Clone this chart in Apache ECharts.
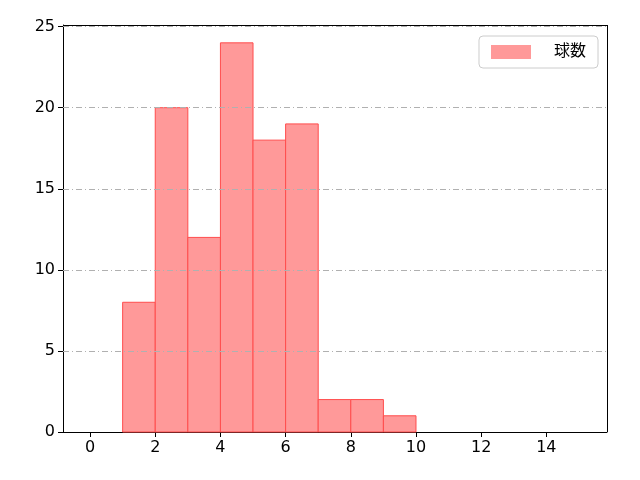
<!DOCTYPE html>
<html><head><meta charset="utf-8">
<script src="https://cdn.jsdelivr.net/npm/echarts@6/dist/echarts.min.js"></script>
</head><body style="margin:0">
<div id="c" style="width:640px;height:480px"></div>
<script>
// ヒストグラムのビン
var binStart = [1, 2, 3, 4, 5, 6, 7, 8, 9];
var binEnd = [2, 3, 4, 5, 6, 7, 8, 9, 10];
var counts = [8, 20, 12, 24, 18, 19, 2, 2, 1];
var xTicks = [0, 2, 4, 6, 8, 10, 12, 14];
var yTicks = [0, 5, 10, 15, 20, 25];
var seriesName = '球数';

var data = [];
for (var i = 0; i < counts.length; i++) {
    data.push([binStart[i], binEnd[i], counts[i]]);
}

var myChart = echarts.init(document.getElementById('c'));
var font = 'DejaVu Sans, Noto Sans CJK JP';
var option = {
    animation: false,
    textStyle: {fontFamily: font},
    grid: {left: 63, right: 33, top: 25, bottom: 48},
    legend: {
        right: 42, top: 36, padding: [8, 12], itemGap: 10,
        borderColor: '#ccc', borderWidth: 1, borderRadius: 4,
        itemWidth: 40, itemHeight: 14,
        textStyle: {fontSize: 16, color: '#000', fontFamily: font, padding: [0, 0, 0, 18]},
        data: [{name: seriesName, icon: 'rect'}]
    },
    xAxis: {
        type: 'value', min: -0.83, max: 15.86,
        axisLine: {onZero: false, lineStyle: {color: '#000'}},
        axisTick: {show: true, length: 5, lineStyle: {color: '#000'}, customValues: xTicks},
        axisLabel: {fontSize: 16, color: '#000', customValues: xTicks},
        splitLine: {show: false}
    },
    yAxis: {
        type: 'value', min: 0, max: 25.1,
        axisLine: {show: true, onZero: false, lineStyle: {color: '#000'}},
        axisTick: {show: true, length: 5, lineStyle: {color: '#000'}, customValues: yTicks},
        axisLabel: {fontSize: 16, color: '#000', customValues: yTicks},
        splitLine: {show: false}
    },
    series: [{
        name: seriesName,
        type: 'custom',
        itemStyle: {color: '#ff9999', borderColor: '#ff4d4d'},
        renderItem: function (params, api) {
            var p0 = api.coord([api.value(0), api.value(2)]);
            var p1 = api.coord([api.value(1), 0]);
            return {
                type: 'rect',
                shape: {x: p0[0], y: p0[1], width: p1[0] - p0[0], height: p1[1] - p0[1]},
                style: {fill: '#ff9999', stroke: '#ff4d4d', lineWidth: 1}
            };
        },
        encode: {x: [0, 1], y: 2},
        data: data,
        z: 3
    }, {
        type: 'line', data: [], z: 1, markLine: {
            silent: true, symbol: 'none', label: {show: false},
            lineStyle: {color: '#b0b0b0', type: [6, 3, 1, 3], width: 1},
            data: [{yAxis: 5}, {yAxis: 10}, {yAxis: 15}, {yAxis: 20}, {yAxis: 25}]
        }
    }, {
        type: 'line', data: [], z: 4, markLine: {
            silent: true, symbol: 'none', label: {show: false},
            lineStyle: {color: '#000', type: 'solid', width: 1},
            data: [{yAxis: 25.1}, {xAxis: 15.86}]
        }
    }]
};
myChart.setOption(option);
</script>
</body></html>
